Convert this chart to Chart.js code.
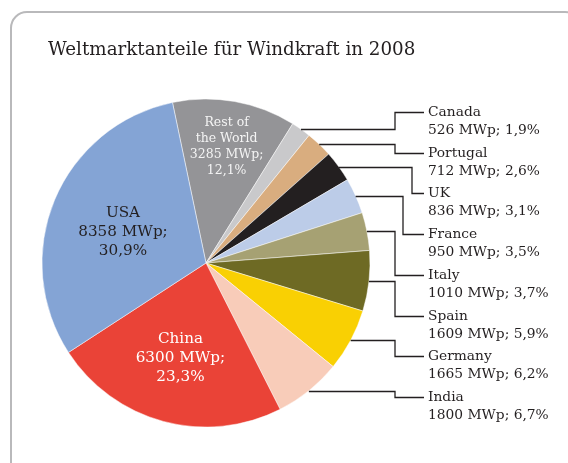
<!DOCTYPE html>
<html>
<head>
<meta charset="utf-8">
<script src="https://cdn.jsdelivr.net/npm/chart.js@4/dist/chart.umd.min.js"></script>
<style>
  html, body { margin: 0; padding: 0; background: #fff; }
  #wrap { position: relative; width: 568px; height: 463px; }
</style>
</head>
<body>
<div id="wrap"><canvas id="pie" width="568" height="463"></canvas></div>
<script>
// data, clockwise from "Rest of the World"
var countries = ['Rest of the World', 'Canada', 'Portugal', 'UK', 'France', 'Italy', 'Spain', 'Germany', 'India', 'China', 'USA'];
var capacity = [3285, 526, 712, 836, 950, 1010, 1609, 1665, 1800, 6300, 8358];
var shares = ['12,1%', '1,9%', '2,6%', '3,1%', '3,5%', '3,7%', '5,9%', '6,2%', '6,7%', '23,3%', '30,9%'];
var sliceColors = ['#949497', '#c9c9cb', '#d9ad7f', '#231f20', '#bccce8', '#a6a173', '#6e6a24', '#f9d003', '#f8ccb9', '#ea4337', '#84a4d5'];
var titleText = 'Weltmarktanteile für Windkraft in 2008';

var SERIF = "'DejaVu Serif', 'Liberation Serif', serif";

// callouts on the right side: slice index -> x of the elbow
var callouts = [
  { i: 1, knee: 395 }, { i: 2, knee: 395 }, { i: 3, knee: 412 }, { i: 4, knee: 403 },
  { i: 5, knee: 395 }, { i: 6, knee: 395 }, { i: 7, knee: 395 }, { i: 8, knee: 395 }
];
// labels drawn inside the big slices (radius as fraction of the pie radius, angle nudge in degrees)
var inside = [
  { i: 0, lines: ['Rest of', 'the World', '3285 MWp;', '12,1%'], rf: 0.72, da: 0, size: 12.5, lh: 16, color: '#f4f4f4' },
  { i: 9, lines: ['China', '6300 MWp;', '23,3%'], rf: 0.60, da: 0, size: 15.2, lh: 19.2, color: '#ffffff' },
  { i: 10, lines: ['USA', '8358 MWp;', '30,9%'], rf: 0.54, da: -2.2, size: 15.2, lh: 19.2, color: '#231f20' }
];

var decor = {
  id: 'decor',
  beforeDraw: function (chart) {
    var ctx = chart.ctx;
    ctx.save();
    // rounded frame
    ctx.strokeStyle = '#b9b9bb';
    ctx.lineWidth = 2;
    ctx.beginPath();
    ctx.roundRect(11, 12, 570, 470, 16);
    ctx.stroke();
    // title
    ctx.fillStyle = '#231f20';
    ctx.font = '18.3px ' + SERIF;
    ctx.textBaseline = 'alphabetic';
    ctx.textAlign = 'left';
    ctx.fillText(titleText, 48, 55);
    ctx.restore();
  },
  afterDatasetsDraw: function (chart) {
    var ctx = chart.ctx;
    var arcs = chart.getDatasetMeta(0).data;
    ctx.save();

    // inside labels
    inside.forEach(function (lab) {
      var a = arcs[lab.i];
      var mid = (a.startAngle + a.endAngle) / 2 + lab.da * Math.PI / 180;
      var cx = a.x + Math.cos(mid) * a.outerRadius * lab.rf;
      var cy = a.y + Math.sin(mid) * a.outerRadius * lab.rf;
      ctx.fillStyle = lab.color;
      ctx.font = lab.size + 'px ' + SERIF;
      ctx.textAlign = 'center';
      ctx.textBaseline = 'middle';
      var top = cy - (lab.lines.length - 1) * lab.lh / 2;
      lab.lines.forEach(function (t, k) { ctx.fillText(t, cx, top + k * lab.lh); });
    });

    // callout lines and texts
    ctx.strokeStyle = '#231f20';
    ctx.lineWidth = 1.3;
    ctx.fillStyle = '#231f20';
    ctx.font = '13.8px ' + SERIF;
    ctx.textAlign = 'left';
    ctx.textBaseline = 'middle';
    callouts.forEach(function (c, k) {
      var a = arcs[c.i];
      var mid = (a.startAngle + a.endAngle) / 2;
      var px = a.x + Math.cos(mid) * a.outerRadius;
      var py = Math.round(a.y + Math.sin(mid) * a.outerRadius) + 0.5;
      var ly = Math.round(112 + k * 40.7) + 0.5;
      ctx.beginPath();
      ctx.moveTo(px, py);
      ctx.lineTo(c.knee, py);
      ctx.lineTo(c.knee, ly);
      ctx.lineTo(424, ly);
      ctx.stroke();
      ctx.fillText(countries[c.i], 428, ly);
      ctx.fillText(capacity[c.i] + ' MWp; ' + shares[c.i], 428, ly + 17.5);
    });
    ctx.restore();
  }
};

new Chart(document.getElementById('pie'), {
  type: 'pie',
  data: {
    labels: countries,
    datasets: [{
      data: capacity,
      backgroundColor: sliceColors,
      borderColor: 'rgba(255,255,255,0.6)',
      borderWidth: 0.8
    }]
  },
  options: {
    responsive: false,
    animation: false,
    rotation: -11.8,
    radius: 164,
    layout: { padding: { left: 42, right: 198, top: 99, bottom: 36 } },
    plugins: {
      legend: { display: false },
      tooltip: { enabled: false }
    }
  },
  plugins: [decor]
});
</script>
</body>
</html>
